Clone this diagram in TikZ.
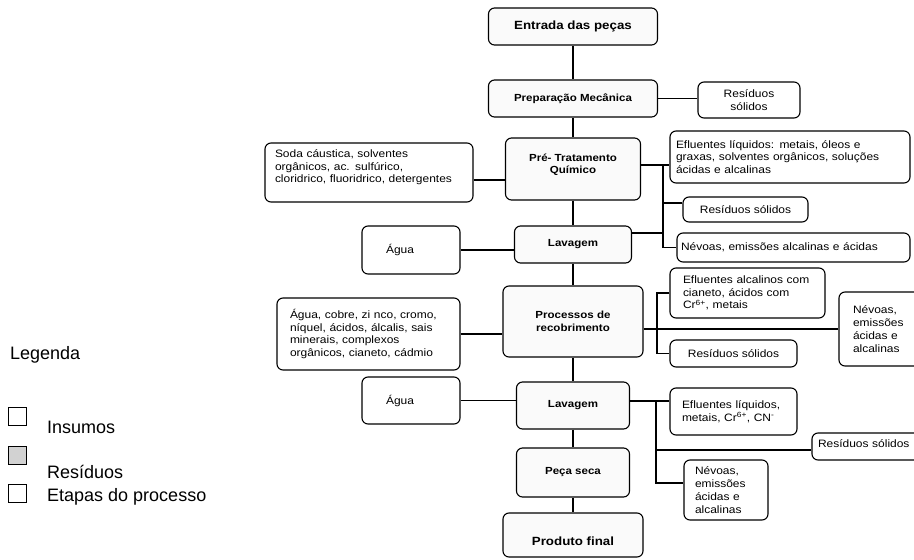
\documentclass[tikz,border=0pt]{standalone}
\usepackage{fontspec}
\setmainfont{Liberation Sans}
\newfontfamily\diag{Liberation Sans}[FakeStretch=1.12]
\begin{document}
\begin{tikzpicture}[x=1pt,y=-1pt,
  wh/.style 2 args={minimum width=#1pt, minimum height=#2pt},
  box/.style={draw, line width=1.1pt, rounded corners=6pt, inner sep=2pt},
  stage/.style={box, fill=gray!4, font=\diag\bfseries\fontsize{10.3}{12.6}\selectfont, align=center},
  bigstage/.style={stage, font=\diag\bfseries\fontsize{11.9}{14}\selectfont},
  side/.style={box, font=\diag\fontsize{10.7}{12.8}\selectfont, align=left},
  sidec/.style={box, font=\diag\fontsize{10.7}{12.8}\selectfont, align=center},
  wire/.style={line width=1.1pt},
  legbox/.style={draw, line width=0.8pt, minimum size=18pt, inner sep=0pt},
  legtext/.style={font=\fontsize{18}{22}\selectfont, anchor=west, inner sep=0pt}]
\useasboundingbox (0,0) rectangle (914,560);
\clip (0,0) rectangle (914,560);

% ---- process stages (spine) ----
\node[bigstage, wh={169}{37}] (entrada) at (573,26.5) {Entrada das peças};
\node[stage, wh={169}{37}] (prep) at (573,98.5) {Preparação Mecânica};
\node[stage, wh={135}{62}] (pre) at (573,169) {\raisebox{4pt}[\height][\depth]{\begin{tabular}{@{}c@{}}Pré- Tratamento\\Químico\end{tabular}}};
\node[stage, wh={117}{37}] (lav1) at (573,244.5) {Lavagem};
\node[stage, wh={140}{71}] (proc) at (573,321.5) {Processos de\\recobrimento};
\node[stage, wh={113}{47}] (lav2) at (573,405.5) {Lavagem};
\node[stage, wh={113}{49}] (seca) at (573,472.5) {Peça seca};
\node[bigstage, wh={140}{44}] (final) at (573,535) {\raisebox{-6pt}[\height][\depth]{Produto final}};

% ---- inputs ----
\node[side, wh={208}{59}, text width=188pt] (soda) at (369,172.5) {Soda cáustica, solventes\\orgânicos, ac. sulfúrico,\\cloridrico, fluoridrico, detergentes\\\mbox{}};
\node[sidec, wh={98}{48}] (agua1) at (411,250) {Água\hspace{22pt}};
\node[side, wh={183}{72}, text width=157pt] (mat) at (368.5,334) {Água, cobre, zi nco, cromo,\\níquel, ácidos, álcalis, sais\\minerais, complexos\\orgânicos, cianeto, cádmio};
\node[sidec, wh={98}{47}] (agua2) at (411,400.5) {Água\hspace{22pt}};

% ---- residues ----
\node[sidec, wh={102}{36}] (res1) at (749,100) {Resíduos\\sólidos};
\node[side, wh={240}{52}, text width=228pt] (ef1) at (790,157) {Efluentes líquidos: metais, óleos e\\graxas, solventes orgânicos, soluções\\ácidas e alcalinas};
\node[sidec, wh={125}{25}] (res2) at (745.5,209.5) {Resíduos sólidos};
\node[side, wh={233}{29}, text width=225pt] (nev1) at (793.5,247.5) {Névoas, emissões alcalinas e ácidas};
\node[side, wh={155}{50}, text width=129pt] (ef2) at (747.5,293) {Efluentes alcalinos com\\cianeto, ácidos com\\Cr\textsuperscript{6+}, metais};
\node[sidec, wh={127}{27}] (res3) at (733.5,353.5) {Resíduos sólidos};
\node[side, wh={86}{74}, text width=58pt] (nev2) at (882,329) {Névoas,\\emissões\\ácidas e\\alcalinas};
\node[side, wh={127}{47}, text width=103pt] (ef3) at (733.5,411.5) {Efluentes líquidos,\\metais, Cr\textsuperscript{6+}, CN\textsuperscript{-}};
\node[side, wh={113}{27}, text width=101pt] (res4) at (868.5,446.5) {\raisebox{3pt}[\height][\depth]{Resíduos sólidos}};
\node[side, wh={84}{60}, text width=62pt] (nev3) at (726,490) {Névoas,\\emissões\\ácidas e\\alcalinas};

% ---- spine connectors ----
\draw[wire] (entrada.south) -- (prep.north);
\draw[wire] (prep.south) -- (pre.north);
\draw[wire] (pre.south) -- (lav1.north);
\draw[wire] (lav1.south) -- (proc.north);
\draw[wire] (proc.south) -- (lav2.north);
\draw[wire] (lav2.south) -- (seca.north);
\draw[wire] (seca.south) -- (final.north);

% ---- side connectors ----
\draw[wire] (prep.east) -- (prep.east -| res1.west);
\coordinate (s1) at (0,180);
\draw[wire] (soda.east |- s1) -- (pre.west |- s1);
\coordinate (j1) at (663,165);
\draw[wire] (pre.east |- j1) -- (ef1.west |- j1);
\draw[wire] (j1) |- (nev1.west);
\coordinate (r2) at (663,203);
\draw[wire] (r2) -- (r2 -| res2.west);
\coordinate (l1) at (663,233);
\draw[wire] (lav1.east |- l1) -- (l1);
\draw[wire] (agua1.east) -- (agua1.east -| lav1.west);
\draw[wire] (mat.east) -- (mat.east -| proc.west);
\coordinate (j2) at (657,329);
\draw[wire] (proc.east |- j2) -- (nev2.west |- j2);
\draw[wire] (ef2.west) -- (ef2.west -| j2) -- (res3.west -| j2) -- (res3.west);
\draw[wire] (agua2.east) -- (agua2.east -| lav2.west);
\coordinate (j3) at (656,401);
\coordinate (j3a) at (656,450);
\coordinate (j3b) at (656,483);
\draw[wire] (lav2.east |- j3) -- (ef3.west |- j3);
\draw[wire] (j3) -- (j3b) -- (j3b -| nev3.west);
\draw[wire] (j3a) -- (j3a -| res4.west);

% ---- legend ----
\node[legtext] (leg) at (10,355) {Legenda};
\node[legbox, fill=white] (lb1) at (17,416) {};
\node[legbox, fill=gray!35] (lb2) at (17,455) {};
\node[legbox, fill=white] (lb3) at (17,493) {};
\node[legtext] (lt1) at (47,427) {Insumos};
\node[legtext] (lt2) at (47,472) {Resíduos};
\node[legtext] (lt3) at (47,497) {Etapas do processo};
\end{tikzpicture}
\end{document}
